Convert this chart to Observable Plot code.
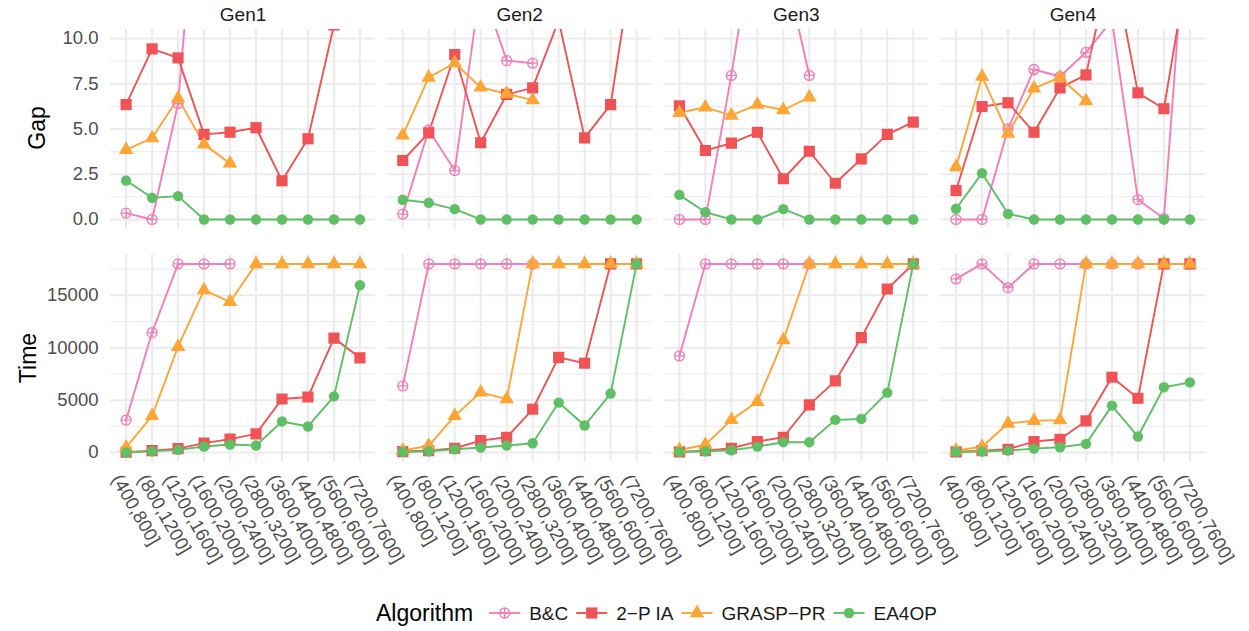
<!DOCTYPE html>
<html>
<head>
<meta charset="utf-8">
<script src="https://cdn.jsdelivr.net/npm/d3@7"></script>
<script src="https://cdn.jsdelivr.net/npm/@observablehq/plot@0.6"></script>
<style>
  body { margin: 0; background: #fff; font-family: "Liberation Sans", Arial, sans-serif; }
  #wrap { position: relative; width: 1249px; height: 631px; overflow: hidden; background: #fff; }
  #wrap svg { display: block; }
  .ytitle { position: absolute; transform: translate(-50%, -50%) rotate(-90deg); font-size: 23px; color: #000; white-space: nowrap; }
  #gapPlot { position: absolute; left: 0; top: 0; }
  #timePlot { position: absolute; left: 0; top: 240px; }
  #legend { position: absolute; left: 0; top: 593px; }
</style>
</head>
<body>
<div id="wrap">
  <div id="gapPlot"></div>
  <div id="timePlot"></div>
  <div class="ytitle" style="left:37px; top:128px;">Gap</div>
  <div class="ytitle" style="left:28px; top:358px;">Time</div>
  <div id="legend"></div>
</div>
<script>
// ---------- data ----------
const categories = ["(400,800]", "(800,1200]", "(1200,1600]", "(1600,2000]", "(2000,2400]",
                    "(2800,3200]", "(3600,4000]", "(4400,4800]", "(5600,6000]", "(7200,7600]"];
const gens = ["Gen1", "Gen2", "Gen3", "Gen4"];
const algorithms = ["B&C", "2\u2212P IA", "GRASP\u2212PR", "EA4OP"];
const colors = ["#F47EB7", "#F05355", "#FFA535", "#5EBF65"];
const gapTicks = [0, 2.5, 5, 7.5, 10];
const gapMinor = [1.25, 3.75, 6.25, 8.75];
const timeTicks = [0, 5000, 10000, 15000];
const timeMinor = [2500, 7500, 12500, 17500];

// Gap: one list per generator (Gen1..Gen4), in category order; null = no result
const gapBC = [
  [0.35, 0, 6.4, 23.5, 25, null, null, null, null, null],
  [0.3, 4.95, 2.7, 13.0, 8.78, 8.64, null, null, null, null],
  [0, 0, 7.96, 17, 14.3, 7.96, null, null, null, null],
  [0, 0, 5.0, 8.29, 7.9, 9.24, 11, 1.1, 0.05, 19.5]
];
const gap2P = [
  [6.35, 9.43, 8.93, 4.70, 4.82, 5.07, 2.14, 4.46, 10.75, 12],
  [3.26, 4.79, 9.12, 4.24, 6.91, 7.27, 11.0, 4.51, 6.35, 15.6],
  [6.28, 3.81, 4.22, 4.82, 2.25, 3.77, 2.0, 3.35, 4.70, 5.38],
  [1.6, 6.24, 6.45, 4.82, 7.27, 7.99, 14.5, 7.0, 6.12, 14.7]
];
const gapGRASP = [
  [3.85, 4.5, 6.7, 4.15, 3.1, null, null, null, null, null],
  [4.65, 7.85, 8.65, 7.3, 6.95, 6.6, null, null, null, null],
  [5.9, 6.2, 5.75, 6.35, 6.05, 6.75, null, null, null, null],
  [2.9, 7.9, 4.75, 7.25, 7.85, 6.55, null, null, null, null]
];
const gapEA = [
  [2.15, 1.2, 1.29, 0, 0, 0, 0, 0, 0, 0],
  [1.09, 0.92, 0.57, 0, 0, 0, 0, 0, 0, 0],
  [1.36, 0.4, 0, 0, 0.57, 0, 0, 0, 0, 0],
  [0.59, 2.56, 0.31, 0, 0, 0, 0, 0, 0, 0]
];

// Time: one list per generator (Gen1..Gen4), in category order; null = no result
const timeBC = [
  [3100, 11450, 18000, 18000, 18000, null, null, null, null, null],
  [6360, 18000, 18000, 18000, 18000, 18000, null, null, null, null],
  [9220, 18000, 18000, 18000, 18000, 18000, null, null, null, null],
  [16570, 18000, 15740, 18000, 18000, 18000, 18000, 18000, 18000, 18000]
];
const time2P = [
  [30, 190, 380, 900, 1280, 1790, 5110, 5300, 10920, 9040],
  [95, 190, 410, 1145, 1460, 4130, 9090, 8520, 18000, 18000],
  [60, 190, 410, 1050, 1460, 4550, 6840, 10970, 15610, 18000],
  [60, 190, 320, 1050, 1270, 3020, 7190, 5180, 18000, 18000]
];
const timeGRASP = [
  [500, 3500, 10100, 15500, 14380, 18000, 18000, 18000, 18000, 18000],
  [200, 650, 3500, 5750, 5100, 18000, 18000, 18000, 18000, 18000],
  [250, 750, 3120, 4850, 10730, 18000, 18000, 18000, 18000, 18000],
  [200, 560, 2780, 3040, 3100, 18000, 18000, 18000, 18000, 18000]
];
const timeEA = [
  [10, 130, 260, 575, 770, 670, 2970, 2490, 5365, 15970],
  [60, 130, 320, 480, 670, 890, 4770, 2580, 5630, 18000],
  [60, 130, 220, 570, 990, 990, 3120, 3210, 5720, 18000],
  [60, 95, 190, 380, 510, 830, 4480, 1530, 6230, 6700]
];

// ---------- build tables ----------
function buildRows(series) {
  const out = [];
  algorithms.forEach((alg, a) => gens.forEach((gen, g) => categories.forEach((cat, i) => {
    const v = series[a][g][i];
    if (v != null) out.push({alg, gen, cat, value: v});
  })));
  return out;
}
const gapRows = buildRows([gapBC, gap2P, gapGRASP, gapEA]);
const timeRows = buildRows([timeBC, time2P, timeGRASP, timeEA]);

// circle with plus (ggplot shape 10)
const circlePlus = {
  draw(ctx, size) {
    const r = Math.sqrt(size / Math.PI);
    ctx.moveTo(r, 0); ctx.arc(0, 0, r, 0, 2 * Math.PI);
    ctx.moveTo(-r, 0); ctx.lineTo(r, 0);
    ctx.moveTo(0, -r); ctx.lineTo(0, r);
  }
};
const symbolSpec = [
  {symbol: circlePlus, r: 5.0, fill: "none", stroke: colors[0], strokeWidth: 1.3},
  {symbol: "square", r: 6.3, fill: colors[1], stroke: "none"},
  {symbol: "triangle", r: 5.4, fill: colors[2], stroke: "none"},
  {symbol: "circle", r: 5.2, fill: colors[3], stroke: "none"}
];

const GRID = "#EBEBEB";
const FONT = "'Liberation Sans', Arial, sans-serif";

function dataMarks(rows) {
  const marks = [
    Plot.line(rows, {x: "cat", y: "value", fx: "gen", z: "alg", stroke: "alg", strokeWidth: 1.9, clip: true})
  ];
  algorithms.forEach((alg, a) => {
    const s = symbolSpec[a];
    marks.push(Plot.dot(rows.filter(d => d.alg === alg), {
      x: "cat", y: "value", fx: "gen", clip: true,
      symbol: s.symbol, r: s.r, fill: s.fill, stroke: s.stroke, strokeWidth: s.strokeWidth || 1
    }));
  });
  return marks;
}

const fxScale = {domain: gens, paddingInner: 0.042, paddingOuter: 0, round: false, label: null};
const xScale = {domain: categories, type: "point", padding: 0.6, round: false, label: null};

function common() {
  return {
    width: 1249,
    marginLeft: 110,
    marginRight: 44,
    style: {fontFamily: FONT, fontSize: "18.5px", background: "white", overflow: "visible"},
    color: {domain: algorithms, range: colors}
  };
}

// ---------- Gap row ----------
const gapPlot = Plot.plot({
  ...common(),
  height: 240,
  marginTop: 29,
  marginBottom: 12,
  fx: fxScale,
  x: {...xScale, axis: null},
  y: {domain: [-0.5, 10.5], label: null},
  marks: [
    Plot.gridY(gapMinor, {stroke: GRID, strokeOpacity: 1, strokeWidth: 1}),
    Plot.gridY(gapTicks, {stroke: GRID, strokeOpacity: 1, strokeWidth: 2}),
    Plot.gridX(categories, {stroke: GRID, strokeOpacity: 1, strokeWidth: 2}),
    Plot.axisY(gapTicks, {anchor: "left", facetAnchor: "left", tickSize: 0, tickPadding: 12,
      tickFormat: d => d.toFixed(1), label: null, fontSize: 18.5, color: "#4D4D4D"}),
    Plot.axisFx({anchor: "top", tickSize: 0, tickPadding: 9, label: null, fontSize: 19, color: "#1A1A1A"}),
    ...dataMarks(gapRows)
  ]
});
document.getElementById("gapPlot").appendChild(gapPlot);

// ---------- Time row ----------
const timePlot = Plot.plot({
  ...common(),
  height: 335,
  marginTop: 14,
  marginBottom: 113.5,
  fx: {...fxScale, axis: null},
  x: xScale,
  y: {domain: [-900, 18900], label: null},
  marks: [
    Plot.gridY(timeMinor, {stroke: GRID, strokeOpacity: 1, strokeWidth: 1}),
    Plot.gridY(timeTicks, {stroke: GRID, strokeOpacity: 1, strokeWidth: 2}),
    Plot.gridX(categories, {stroke: GRID, strokeOpacity: 1, strokeWidth: 2}),
    Plot.axisY(timeTicks, {anchor: "left", facetAnchor: "left", tickSize: 0, tickPadding: 12,
      tickFormat: d => String(d), label: null, fontSize: 18.5, color: "#4D4D4D"}),
    Plot.axisX({anchor: "bottom", facetAnchor: "bottom", tickSize: 0, tickPadding: 6, tickRotate: 60,
      dx: -10, dy: 8, label: null, fontSize: 18.5, color: "#4D4D4D"}),
    ...dataMarks(timeRows)
  ]
});
document.getElementById("timePlot").appendChild(timePlot);

// ---------- Legend ----------
(function legend() {
  const svg = d3.select("#legend").append("svg")
    .attr("width", 1249).attr("height", 40)
    .style("font-family", FONT);
  const cy = 20;
  let x = 376;
  const title = svg.append("text").attr("x", x).attr("y", cy).attr("dy", "0.35em")
    .attr("font-size", 23).attr("fill", "#000").text("Algorithm");
  x += title.node().getComputedTextLength() + 16;
  algorithms.forEach((alg, a) => {
    const s = symbolSpec[a];
    svg.append("line").attr("x1", x).attr("x2", x + 31).attr("y1", cy).attr("y2", cy)
      .attr("stroke", colors[a]).attr("stroke-width", 1.9);
    const sym = typeof s.symbol === "string"
      ? {circle: d3.symbolCircle, square: d3.symbolSquare, triangle: d3.symbolTriangle}[s.symbol]
      : s.symbol;
    svg.append("path").attr("transform", `translate(${x + 15.5},${cy})`)
      .attr("d", d3.symbol(sym, Math.PI * s.r * s.r)())
      .attr("fill", s.fill).attr("stroke", s.stroke).attr("stroke-width", s.strokeWidth || 1);
    x += 31 + 9;
    const t = svg.append("text").attr("x", x).attr("y", cy).attr("dy", "0.35em")
      .attr("font-size", 19).attr("fill", "#1A1A1A").text(alg);
    x += t.node().getComputedTextLength() + 8;
  });
})();
</script>
</body>
</html>
